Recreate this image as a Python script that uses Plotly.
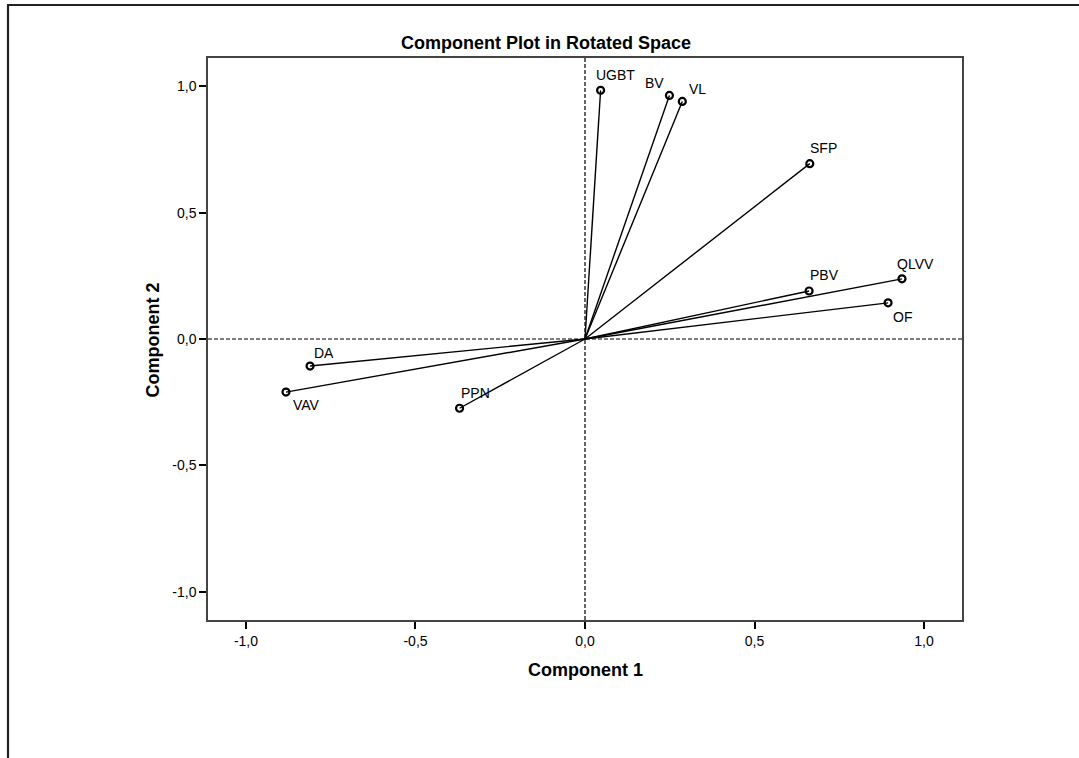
import plotly.graph_objects as go

variables = ["UGBT", "BV", "VL", "SFP", "QLVV", "PBV", "OF", "DA", "VAV", "PPN"]
comp1 = [0.046, 0.249, 0.287, 0.663, 0.935, 0.661, 0.894, -0.811, -0.882, -0.370]
comp2 = [0.984, 0.964, 0.940, 0.694, 0.238, 0.190, 0.143, -0.107, -0.210, -0.274]
tick_vals = [-1.0, -0.5, 0.0, 0.5, 1.0]
tick_text = ["-1,0", "-0,5", "0,0", "0,5", "1,0"]

# label offsets in pixels (style)
label_shift = {
    "UGBT": (15, 15), "BV": (-15, 12), "VL": (15, 12), "SFP": (14, 16),
    "QLVV": (14, 15), "PBV": (15, 16), "OF": (14, -14), "DA": (14, 13),
    "VAV": (21, -13), "PPN": (16, 15),
}

FONT = "Arial, Liberation Sans, sans-serif"

fig = go.Figure()

for name, x, y in zip(variables, comp1, comp2):
    fig.add_trace(go.Scatter(x=[0, x], y=[0, y], mode="lines",
                             line=dict(color="black", width=1.4),
                             hoverinfo="skip", showlegend=False))

fig.add_trace(go.Scatter(x=comp1, y=comp2, mode="markers", text=variables,
                         marker=dict(symbol="circle-open", size=7, color="black",
                                     line=dict(width=2.2, color="black")),
                         showlegend=False))

for name, x, y in zip(variables, comp1, comp2):
    dx, dy = label_shift[name]
    fig.add_annotation(x=x, y=y, text=name, showarrow=False, xshift=dx, yshift=dy,
                       font=dict(family=FONT, size=14, color="black"))

fig.add_shape(type="line", x0=0, x1=0, y0=0, y1=1, xref="x", yref="paper",
              line=dict(color="black", width=1.2, dash="4px,2px"))
fig.add_shape(type="line", x0=0, x1=1, y0=0, y1=0, xref="paper", yref="y",
              line=dict(color="black", width=1.2, dash="4px,2px"))

W, H = 1079, 758
L, R, T, B = 208, 117, 58, 138
pw, ph = W - L - R, H - T - B
def px(xp): return (xp - L) / pw
def py(yp): return (H - B - yp) / ph

# outer frame (top and left edges of the image)
fig.add_shape(type="line", xref="paper", yref="paper", x0=px(7), x1=px(1079), y0=py(5), y1=py(5),
              line=dict(color="#222", width=2.2))
fig.add_shape(type="line", xref="paper", yref="paper", x0=px(8), x1=px(8), y0=py(5), y1=py(758),
              line=dict(color="#222", width=2.2))

# titles
fig.add_annotation(xref="paper", yref="paper", x=px(546), y=py(43), text="<b>Component Plot in Rotated Space</b>",
                   showarrow=False, xanchor="center", yanchor="middle",
                   font=dict(family=FONT, size=18, color="black"))
fig.add_annotation(xref="paper", yref="paper", x=px(585.5), y=py(670), text="<b>Component 1</b>",
                   showarrow=False, xanchor="center", yanchor="middle",
                   font=dict(family=FONT, size=18, color="black"))
fig.add_annotation(xref="paper", yref="paper", x=px(152.5), y=py(340), text="<b>Component 2</b>",
                   showarrow=False, xanchor="center", yanchor="middle", textangle=-90,
                   font=dict(family=FONT, size=18, color="black"))

axis_common = dict(range=[-1.112, 1.112], tickvals=tick_vals, ticktext=tick_text,
                   showgrid=False, zeroline=False, showline=True, mirror=True,
                   linecolor="#444", linewidth=1.5, ticks="outside", ticklen=7,
                   tickwidth=1.8, tickcolor="black",
                   tickfont=dict(family=FONT, size=14, color="black"))

fig.update_xaxes(**axis_common)
fig.update_yaxes(**axis_common)

fig.update_layout(
    width=W, height=H,
    margin=dict(l=L, r=R, t=T, b=B, autoexpand=False),
    paper_bgcolor="white", plot_bgcolor="white",
)

fig.write_html("out.html", config={"displayModeBar": False},
               post_script="document.body.style.margin='0px';")
